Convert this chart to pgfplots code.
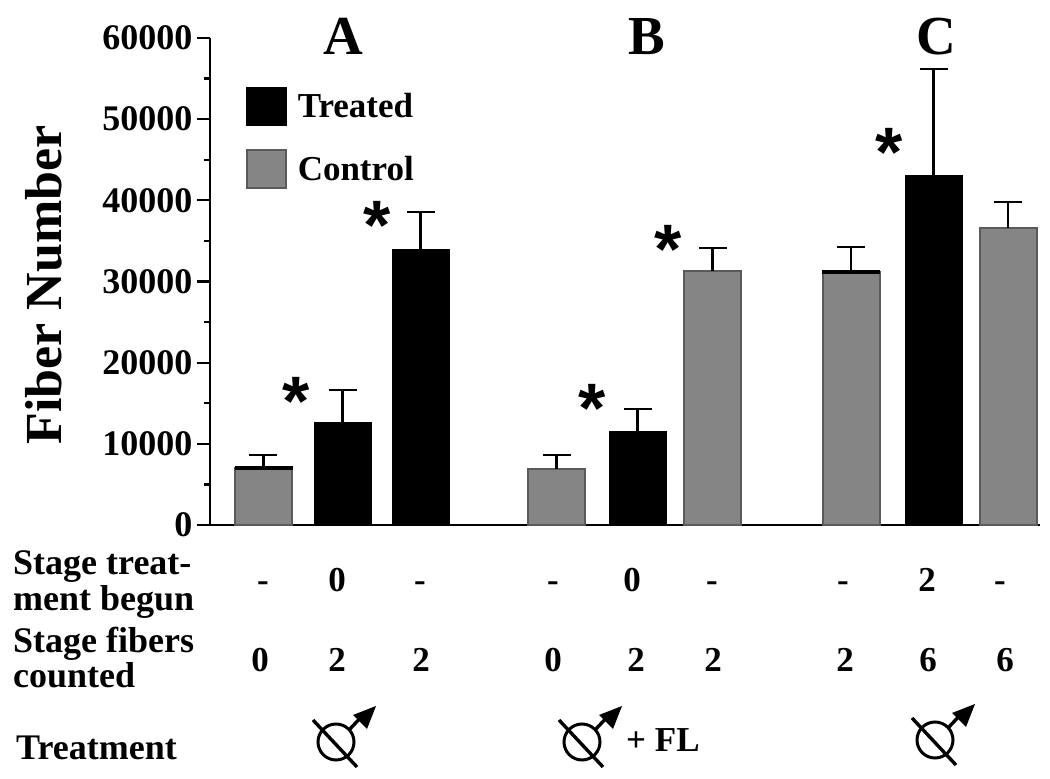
\documentclass[border=0pt]{standalone}
\usepackage{pgfplots}
\pgfplotsset{compat=1.18}
\usepackage{fontspec}
\setmainfont{Liberation Serif}[BoldFont={Liberation Serif Bold}]
\newfontfamily\starfont{Liberation Sans Bold}
\definecolor{barg}{HTML}{858585}
\definecolor{bard}{HTML}{5A5A5A}
\newcommand{\fsz}[1]{\fontsize{#1}{#1}\selectfont\bfseries}
\newcommand{\lab}[3]{\node[anchor=base west,inner sep=0pt,font=\fsz{36}] at (#1,779-#2) {#3};}
\newcommand{\val}[3]{\node[anchor=base,inner sep=0pt,font=\fsz{35}] at (#1,779-#2) {#3};}
\newcommand{\sta}[2]{\node[anchor=base,inner sep=0pt] at (#1,779-#2-33) {\fontsize{70}{70}\selectfont\starfont *};}
\newcommand{\sym}[2]{%
 \begin{scope}[shift={(#1,779-#2)},line width=3pt,black]
  \draw (0,0) circle (18);
  \draw[line width=3.4pt] (-23,22) -- (21,-25);
  \draw[line width=3.4pt] (13,12) -- (29,29);
  \fill (40,36) -- (17,27) -- (31,13) -- cycle;
 \end{scope}}
\begin{document}
\begin{tikzpicture}[x=1pt,y=1pt]
\path[use as bounding box] (0,0) rectangle (1050,779);
\begin{axis}[
  at={(210pt,254pt)},anchor=south west,
  scale only axis,width=830pt,height=487pt,
  xmin=210,xmax=1040,ymin=0,ymax=60000,
  clip=false,
  axis lines*=left,
  axis line style={line width=2.5pt,-},
  xtick=\empty,
  ytick={0,10000,20000,30000,40000,50000,60000},
  minor y tick num=1,
  scaled y ticks=false,
  y tick label style={/pgf/number format/assume math mode=true,/pgf/number format/set thousands separator={},font=\fsz{36},xshift=-1pt},
  tick style={black,line width=2.2pt},
  tick align=outside,
  major tick length=13pt,minor tick length=6pt,
  every axis y label/.style={at={(axis description cs:-0.2,0.493)},rotate=90,anchor=center,font=\fsz{52}},
  ylabel={Fiber Number},
  legend style={at={(axis cs:246,54000)},anchor=north west,draw=none,fill=none,
    font=\fsz{35},row sep=23pt,inner sep=0pt,outer sep=0pt,
    legend cell align=left},
  legend image code/.code={\draw[#1,line width=1.5pt] (0pt,-19pt) rectangle (39pt,19pt);\path (48pt,0pt);},
]
\addplot[ybar,bar width=57pt,fill=black,draw=black,line width=1pt,
   error bars/.cd,y dir=plus,y explicit,error bar style={black,line width=2.6pt},
   error mark options={black,rotate=90,mark size=14pt,line width=2.6pt}]
 coordinates {
  (342.5,12570) +- (0,4060)
  (420.5,34000) +- (0,4560)
  (637.5,11460) +- (0,2830)
  (933.5,43000) +- (0,13180)
 };
\addlegendentry{Treated}
\addplot[ybar,bar width=57pt,fill=barg,draw=bard,line width=2pt,
   error bars/.cd,y dir=plus,y explicit,error bar style={black,line width=2.6pt},
   error mark options={black,rotate=90,mark size=14pt,line width=2.6pt}]
 coordinates {
  (263.5,7020) +- (0,1600)
  (556.5,6900) +- (0,1720)
  (712.5,31300) +- (0,2830)
  (851,31170) +- (0,3080)
  (1008,36590) +- (0,3210)
 };
\addlegendentry{Control}
\addplot[forget plot,only marks,mark=-,mark size=29pt,mark options={line width=3.5pt,black}]
 coordinates {(263.5,7020) (851,31170)};
\end{axis}
% panel letters
\foreach \t/\x in {A/343,B/647,C/936}{\node[anchor=base,inner sep=0pt,font=\fsz{55}] at (\x,779-55) {\t};}
% stars
\sta{296}{393}\sta{377}{217}\sta{592}{400}\sta{668}{241}\sta{889}{144}
% row labels
\lab{13}{575}{Stage treat-}\lab{13}{611}{ment begun}
\lab{13}{653}{Stage fibers}\lab{13}{688}{counted}
\lab{16}{760}{Treatment}
% rows
\val{263}{592}{-}\val{337}{592}{0}\val{420}{592}{-}
\val{553}{592}{-}\val{632}{592}{0}\val{712}{592}{-}
\val{843}{592}{-}\val{927}{592}{2}\val{1000}{592}{-}
\val{260}{672}{0}\val{337}{672}{2}\val{421}{672}{2}
\val{553}{672}{0}\val{636}{672}{2}\val{713}{672}{2}
\val{845}{672}{2}\val{928}{672}{6}\val{1005}{672}{6}
% symbols
\sym{336}{742}\sym{582}{742}\sym{935}{740}
\node[anchor=base west,inner sep=0pt,font=\fsz{35}] at (626,779-752) {+ FL};
\end{tikzpicture}
\end{document}
